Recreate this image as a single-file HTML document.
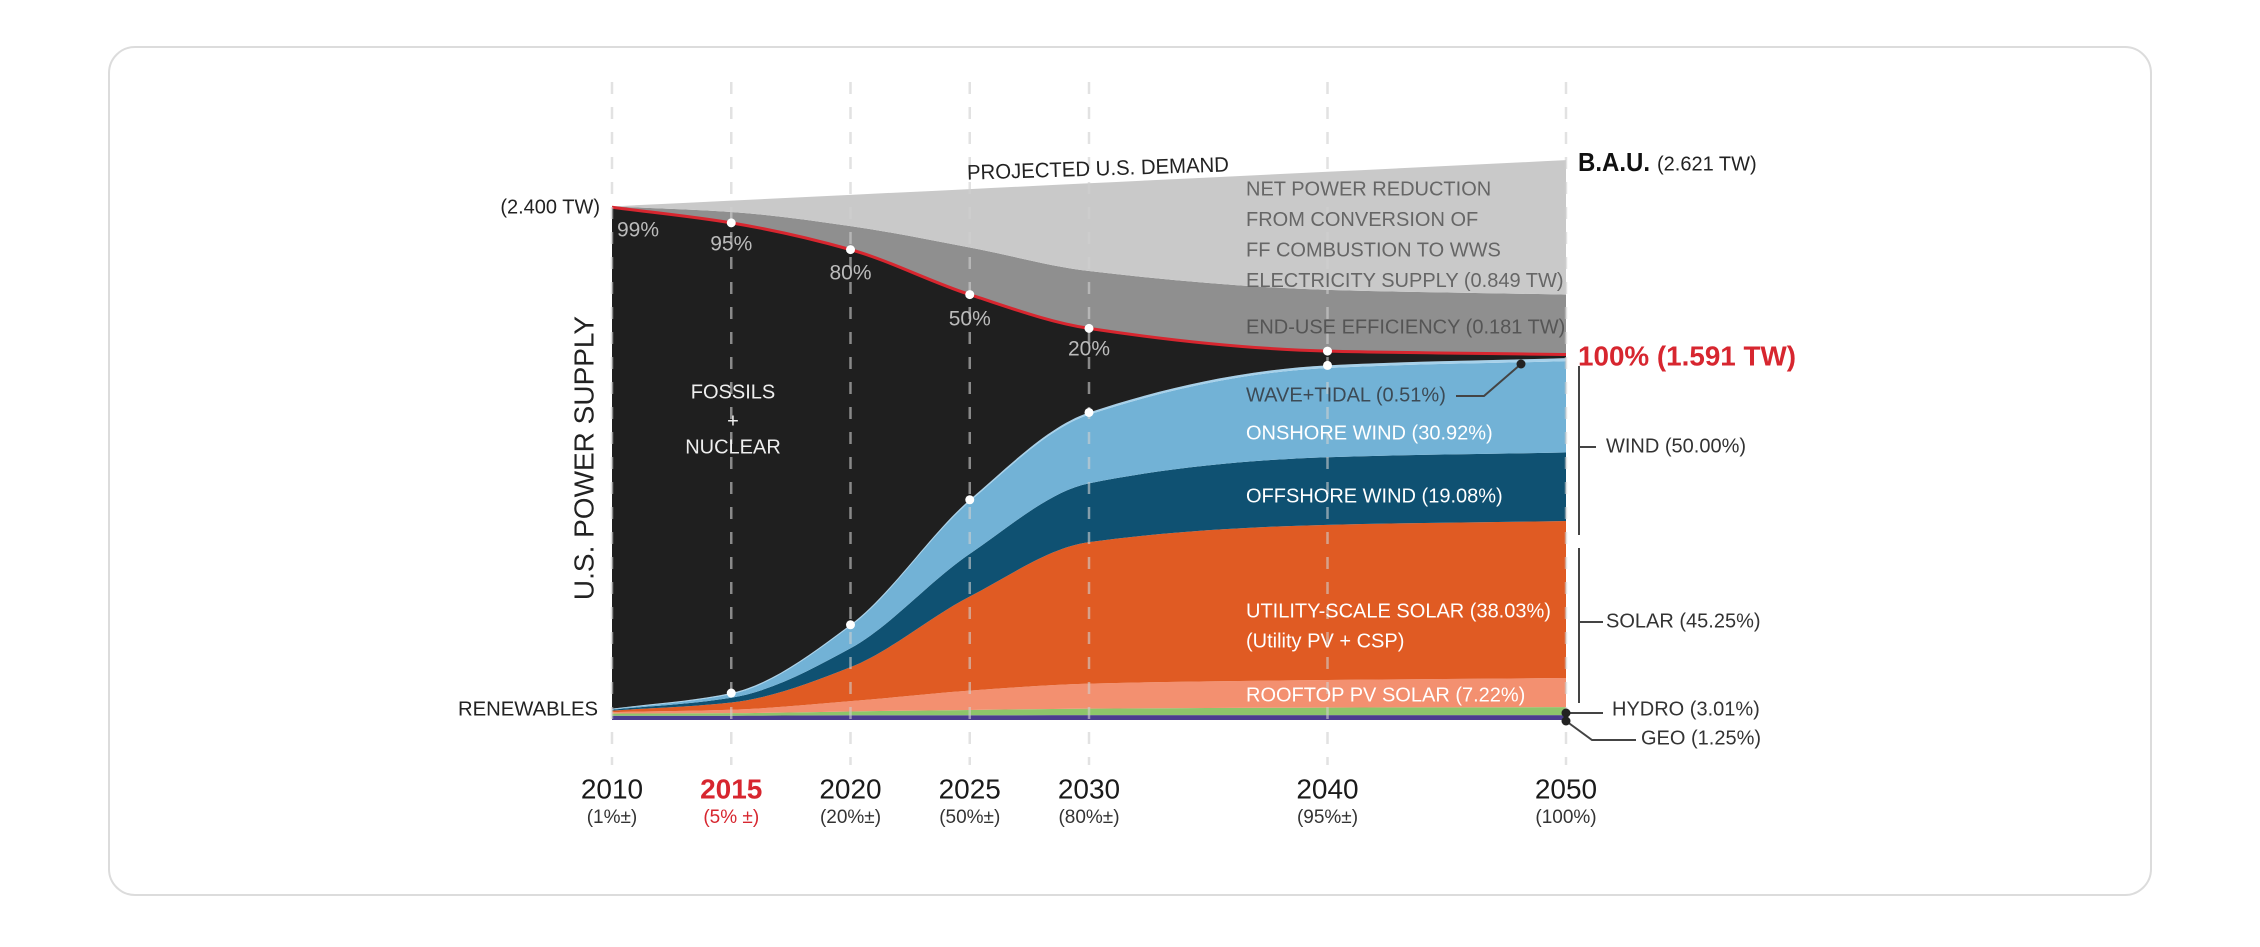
<!DOCTYPE html>
<html><head><meta charset="utf-8"><style>
html,body{margin:0;padding:0;background:#fff;}
body{width:2260px;height:942px;overflow:hidden;font-family:"Liberation Sans",sans-serif;}
svg text{font-family:"Liberation Sans",sans-serif;}
</style></head><body>
<svg id="chart" width="2260" height="942" viewBox="0 0 2260 942" xmlns="http://www.w3.org/2000/svg">
<rect x="109" y="47" width="2042" height="848" rx="26" fill="#fff" stroke="#dcdcdc" stroke-width="2"/>
<g id="layers"></g>
<g id="grid"></g>
<g id="dots"></g>
<g id="labels"></g>
</svg>
<script>
const years = [2010, 2015, 2020, 2025, 2030, 2040, 2050];
const geo = [0.02, 0.02, 0.022, 0.022, 0.023, 0.023, 0.023];
const hydro = [0.01, 0.012, 0.018, 0.025, 0.03, 0.035, 0.037];
const rooftop = [0.007, 0.016, 0.048, 0.090, 0.117, 0.129, 0.136];
const utilitySolar = [0.007, 0.034, 0.159, 0.440, 0.661, 0.725, 0.734];
const offshoreWind = [0.004, 0.022, 0.088, 0.199, 0.275, 0.316, 0.320];
const onshoreWind = [0.002, 0.017, 0.104, 0.245, 0.321, 0.417, 0.427];
const waveTidal = [0.003, 0.005, 0.006, 0.008, 0.01, 0.012, 0.014];
const fossils = [2.343, 2.197, 1.753, 0.959, 0.393, 0.067, 0.017];
const efficiency = [0.004, 0.051, 0.110, 0.220, 0.268, 0.286, 0.280];
const conversion = [0.0, 0.053, 0.146, 0.273, 0.410, 0.552, 0.628];
const yearLabels = ["2010","2015","2020","2025","2030","2040","2050"];
const shareLabels = ["(1%±)","(5% ±)","(20%±)","(50%±)","(80%±)","(95%±)","(100%)"];
const curvePct = ["99%","95%","80%","50%","20%"];

const NS = "http://www.w3.org/2000/svg";
const x = yr => 612 + (yr - 2010) * (1566 - 612) / 40;
const y = v => 720 - v * 214;

function mk(tag, attrs, parent) {
  const e = document.createElementNS(NS, tag);
  for (const k in attrs) e.setAttribute(k, attrs[k]);
  parent.appendChild(e);
  return e;
}
function monotone(xs, ys) {
  const n = xs.length, d = [], m = [];
  for (let i = 0; i < n - 1; i++) d.push((ys[i+1]-ys[i])/(xs[i+1]-xs[i]));
  m[0] = d[0]; m[n-1] = d[n-2];
  for (let i = 1; i < n - 1; i++) {
    if (d[i-1]*d[i] <= 0) m[i] = 0;
    else { const w1 = 2*(xs[i+1]-xs[i]) + (xs[i]-xs[i-1]), w2 = (xs[i+1]-xs[i]) + 2*(xs[i]-xs[i-1]); m[i] = (w1+w2)/(w1/d[i-1]+w2/d[i]); }
  }
  return {m};
}
function pathFwd(xs, ys) {
  const {m} = monotone(xs, ys);
  let s = "";
  for (let i = 0; i < xs.length - 1; i++) {
    const h = xs[i+1]-xs[i];
    s += ` C${xs[i]+h/3},${ys[i]+m[i]*h/3} ${xs[i+1]-h/3},${ys[i+1]-m[i+1]*h/3} ${xs[i+1]},${ys[i+1]}`;
  }
  return s;
}
const px = years.map(x);
const series = [
  ["geo-layer", geo, "#4b3d8f"],
  ["hydro-layer", hydro, "#8dc56b"],
  ["rooftop-solar-layer", rooftop, "#f39070"],
  ["utility-solar-layer", utilitySolar, "#e05b23"],
  ["offshore-wind-layer", offshoreWind, "#0f5172"],
  ["onshore-wind-layer", onshoreWind, "#72b2d6"],
  ["wave-tidal-layer", waveTidal, "#a7d1ea"],
  ["fossils-nuclear-layer", fossils, "#1f1f1f"],
  ["end-use-efficiency-layer", efficiency, "#8f8f8f"],
  ["conversion-reduction-layer", conversion, "#c9c9c9"]
];
const L = document.getElementById("layers");
let base = years.map(() => 0);
const tops = {};
series.forEach(([name, vals, col]) => {
  const top = base.map((b, i) => b + vals[i]);
  const ty = top.map(y), by = base.map(y);
  let d = `M${px[0]},${ty[0]}` + pathFwd(px, ty);
  const rx = px.slice().reverse(), ry = by.slice().reverse();
  d += ` L${rx[0]},${ry[0]}` + pathFwd(rx, ry) + " Z";
  const p = mk("path", {d, fill: col}, L);
  
  
  tops[name] = top;
  base = top;
});
const redTop = tops["fossils-nuclear-layer"];
const rl = mk("path", {d: `M${px[0]},${y(redTop[0])}` + pathFwd(px, redTop.map(y)), fill: "none", stroke: "#d7262f", "stroke-width": 3}, L);



const G = document.getElementById("grid");
years.forEach((yr, i) => {
  const g = mk("line", {x1: x(yr), x2: x(yr), y1: 82, y2: 765, stroke: "#d0d0d0", "stroke-width": 2.5, "stroke-dasharray": "12 13", opacity: 0.6}, G);
  
  
});
const D = document.getElementById("dots");
const blueTop = tops["wave-tidal-layer"];
[1,2,3,4,5].forEach(i => {
  const a = mk("circle", {cx: px[i], cy: y(redTop[i]), r: 4.5, fill: "#fff"}, D);
  
  
  const b = mk("circle", {cx: px[i], cy: y(blueTop[i]), r: 4.5, fill: "#fff"}, D);
  
  
});
const T = document.getElementById("labels");
function txt(name, s, ax, ay, opts) {
  const o = Object.assign({size: 19, fill: "#222", anchor: "start", weight: "normal"}, opts || {});
  const t = mk("text", {x: ax, y: ay, "font-size": o.size, fill: o.fill, "text-anchor": o.anchor, "font-weight": o.weight, "dominant-baseline": "middle"}, T);
  if (o.len) { t.setAttribute("textLength", o.len); t.setAttribute("lengthAdjust", "spacingAndGlyphs"); }
  if (o.transform) t.setAttribute("transform", o.transform);
  t.textContent = s;
  
  
  return t;
}
years.forEach((yr, i) => {
  const red = yr === 2015;
  txt('year-label-' + yr, yearLabels[i], x(yr), 791, {size: 28, anchor: "middle", fill: red ? "#d7262f" : "#1a1a1a", weight: red ? "bold" : "normal"});
  txt('share-label-' + yr, shareLabels[i], x(yr), 818, {size: 19, anchor: "middle", fill: red ? "#d7262f" : "#333"});
});
const pctY = [231, 245, 274, 320, 350];
curvePct.forEach((s, i) => {
  txt('curve-pct-' + years[i], s, i === 0 ? 617 : x(years[i]), pctY[i], {size: 21, fill: "#bbb", anchor: i === 0 ? "start" : "middle"});
});
txt('supply-2010-label', "(2.400 TW)", 600, 208, {anchor: "end", size: 20});
txt('renewables-label', "RENEWABLES", 598, 710, {anchor: "end", size: 20, len: 140});
txt('y-axis-title', "U.S. POWER SUPPLY", 586, 458, {anchor: "middle", size: 28, transform: "rotate(-90 586 458)"});
txt('fossils-label', "FOSSILS", 733, 393, {anchor: "middle", fill: "#eee", size: 20});
txt('plus-label', "+", 733, 422, {anchor: "middle", fill: "#eee", size: 20});
txt('nuclear-label', "NUCLEAR", 733, 448, {anchor: "middle", fill: "#eee", size: 20});
txt('demand-label', "PROJECTED U.S. DEMAND", 1098, 170, {anchor: "middle", size: 21, len: 262, transform: "rotate(-1.8 1098 170)"});
txt('bau-label', "B.A.U.", 1578, 164, {size: 26, weight: "bold", fill: "#111", len: 72});
txt('bau-value', "(2.621 TW)", 1657, 165, {size: 20});
["NET POWER REDUCTION","FROM CONVERSION OF","FF COMBUSTION TO WWS","ELECTRICITY SUPPLY (0.849 TW)"].forEach((s, i) => {
  txt('net-reduction-line-' + (i+1), s, 1246, 190 + i * 30.5, {size: 20, fill: "#666"});
});
txt('efficiency-label', "END-USE EFFICIENCY (0.181 TW)", 1246, 328, {size: 20, fill: "#555"});
txt('target-label', "100% (1.591 TW)", 1578, 358, {size: 28, fill: "#d7262f", weight: "bold", len: 218});
txt('wave-tidal-label', "WAVE+TIDAL (0.51%)", 1246, 396, {size: 20, fill: "#3c4a55"});
txt('onshore-wind-label', "ONSHORE WIND (30.92%)", 1246, 434, {size: 20, fill: "#fff"});
txt('offshore-wind-label', "OFFSHORE WIND (19.08%)", 1246, 497, {size: 20, fill: "#fff"});
txt('utility-solar-label', "UTILITY-SCALE SOLAR (38.03%)", 1246, 612, {size: 20, fill: "#fff"});
txt('utility-solar-sub', "(Utility PV + CSP)", 1246, 642, {size: 20, fill: "#fff"});
txt('rooftop-solar-label', "ROOFTOP PV SOLAR (7.22%)", 1246, 696, {size: 20, fill: "#fff"});
txt('wind-total-label', "WIND (50.00%)", 1606, 447, {size: 20, fill: "#333"});
txt('solar-total-label', "SOLAR (45.25%)", 1606, 622, {size: 20, fill: "#333"});
txt('hydro-label', "HYDRO (3.01%)", 1612, 710, {size: 20, fill: "#333"});
txt('geo-label', "GEO (1.25%)", 1641, 739, {size: 20, fill: "#333"});
function ln(name, d) {
  const p = mk("path", {d, fill: "none", stroke: "#444", "stroke-width": 2}, T);
  
  
}
ln('wave-leader', "M1456,396 L1484,396 L1521,364");
ln('wind-bracket', "M1579,366 L1579,535 M1579,447 L1596,447");
ln('solar-bracket', "M1579,548 L1579,703 M1579,622 L1603,622");
ln('hydro-leader', "M1566,713 L1603,713");
ln('geo-leader', "M1566,721 L1592,740 L1636,740");
[[1521,364],[1566,713],[1566,721]].forEach((c, i) => {
  const e = mk("circle", {cx: c[0], cy: c[1], r: 4.5, fill: "#222"}, T);
  
  
});
</script>
</body></html>
